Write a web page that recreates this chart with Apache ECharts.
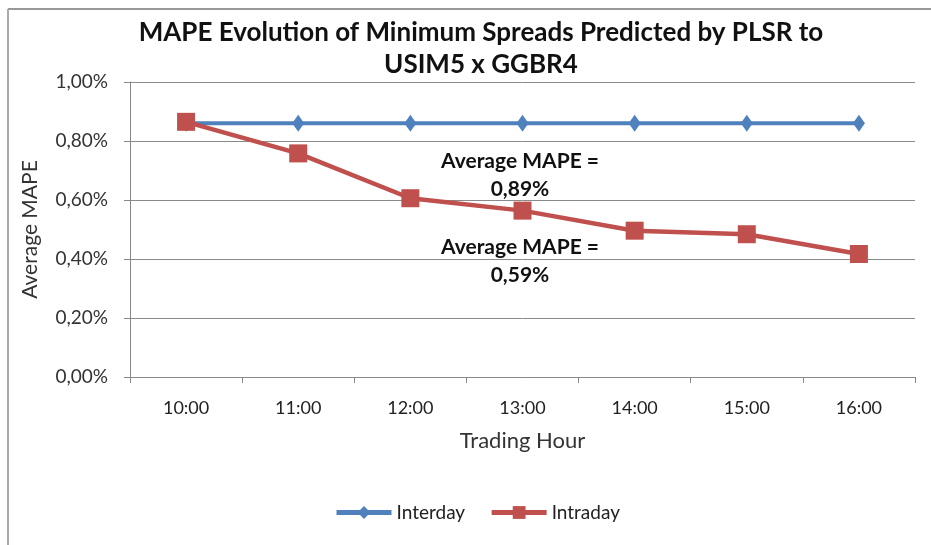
<!DOCTYPE html>
<html>
<head>
<meta charset="utf-8">
<script src="https://cdn.jsdelivr.net/npm/echarts@6/dist/echarts.min.js"></script>
<style>html,body{margin:0;padding:0;background:#fff}#c{width:931px;height:545px}</style>
</head>
<body>
<div id="c"></div>
<script>
var categories = ['10:00','11:00','12:00','13:00','14:00','15:00','16:00'];
var interday = [0.86, 0.86, 0.86, 0.86, 0.86, 0.86, 0.86];
var intraday = [0.865, 0.758, 0.606, 0.564, 0.496, 0.484, 0.417];
var yTicks = [0, 0.2, 0.4, 0.6, 0.8, 1.0];
var titleText = 'MAPE Evolution of Minimum Spreads Predicted by PLSR to\nUSIM5 x GGBR4';
var annot1 = ['Average MAPE =', '0,89%'];
var annot2 = ['Average MAPE =', '0,59%'];

var FONT = 'Lato';
var chart = echarts.init(document.getElementById('c'), null, {renderer: 'canvas'});
chart.setOption({
  backgroundColor: '#fff',
  animation: false,
  title: {
    text: titleText,
    left: 476, top: 12, textAlign: 'center',
    textStyle: {fontFamily: FONT, fontWeight: 'bold', fontSize: 26, color: '#111', lineHeight: 32}
  },
  grid: {left: 130, right: 16, top: 82, bottom: 168},
  legend: {
    bottom: 18, left: 329,
    itemWidth: 55, itemHeight: 16, itemGap: 24,
    textStyle: {fontFamily: FONT, fontSize: 19, color: '#222'},
    lineStyle: {width: 5},
    data: ['Interday', 'Intraday']
  },
  xAxis: {
    type: 'category', data: categories, boundaryGap: true,
    name: 'Trading Hour', nameLocation: 'middle', nameGap: 53,
    nameTextStyle: {fontFamily: FONT, fontSize: 22, color: '#333'},
    axisLine: {lineStyle: {color: '#888', width: 1}},
    axisTick: {show: true, length: 6, lineStyle: {color: '#888'}},
    axisLabel: {fontFamily: FONT, fontSize: 18, color: '#222', margin: 22}
  },
  yAxis: {
    type: 'value', min: 0, max: 1.0, interval: 0.2,
    name: 'Average MAPE', nameLocation: 'middle', nameGap: 89,
    nameTextStyle: {fontFamily: FONT, fontSize: 21, color: '#333'},
    axisLine: {show: true, lineStyle: {color: '#888', width: 1}},
    axisTick: {show: true, length: 6, lineStyle: {color: '#888'}},
    axisLabel: {fontFamily: FONT, fontSize: 19, color: '#333', margin: 22,
      formatter: function (v) { return v.toFixed(2).replace('.', ',') + '%'; }},
    splitLine: {lineStyle: {color: '#8a8a8a', width: 1}}
  },
  series: [
    {
      name: 'Interday', type: 'line', data: interday,
      symbol: 'diamond', symbolSize: [12, 17], z: 2,
      itemStyle: {color: '#4F81BD'},
      lineStyle: {color: '#4F81BD', width: 4}
    },
    {
      name: 'Intraday', type: 'line', data: intraday,
      symbol: 'rect', symbolSize: 18, z: 3,
      itemStyle: {color: '#C0504D'},
      lineStyle: {color: '#C0504D', width: 4.5}
    }
  ],
  graphic: [
    {type: 'line', shape: {x1: 8, y1: 9, x2: 931, y2: 9}, style: {stroke: '#999', lineWidth: 2}},
    {type: 'line', shape: {x1: 8, y1: 9, x2: 8, y2: 545}, style: {stroke: '#aaa', lineWidth: 2}},
    {type: 'text', x: 520, y: 161, style: {text: annot1[0], textAlign: 'center', textVerticalAlign: 'middle', font: 'bold 21px ' + FONT, fill: '#111'}},
    {type: 'text', x: 520, y: 189, style: {text: annot1[1], textAlign: 'center', textVerticalAlign: 'middle', font: 'bold 21px ' + FONT, fill: '#111'}},
    {type: 'text', x: 520, y: 247, style: {text: annot2[0], textAlign: 'center', textVerticalAlign: 'middle', font: 'bold 21px ' + FONT, fill: '#111'}},
    {type: 'text', x: 520, y: 275, style: {text: annot2[1], textAlign: 'center', textVerticalAlign: 'middle', font: 'bold 21px ' + FONT, fill: '#111'}}
  ]
});
</script>
</body>
</html>
